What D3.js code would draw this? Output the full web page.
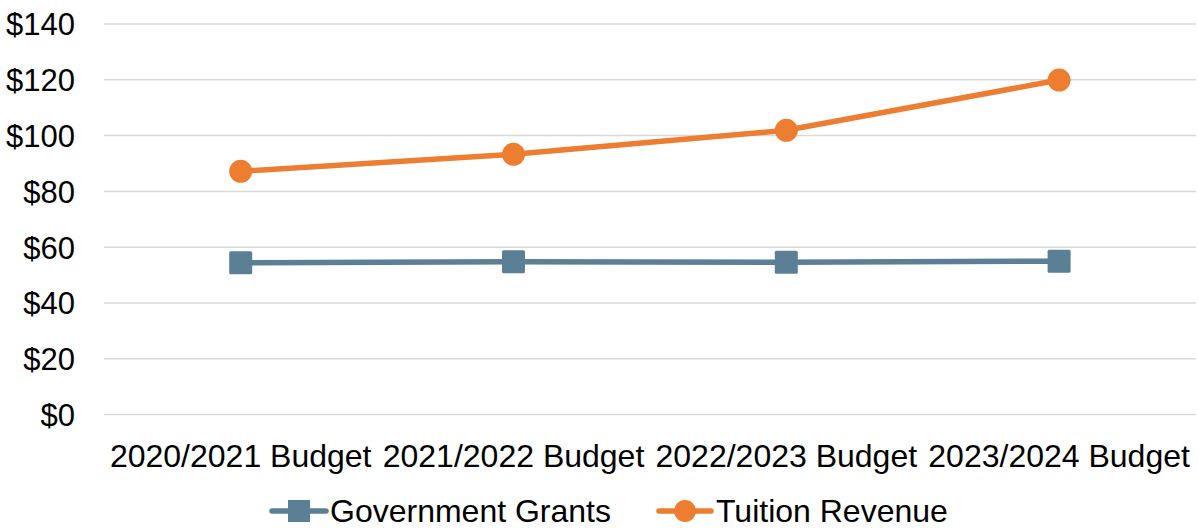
<!DOCTYPE html>
<html><head><meta charset="utf-8">
<script src="https://cdn.jsdelivr.net/npm/d3@7"></script>
<style>body{margin:0;background:#fff}svg{display:block}text{font-family:"Liberation Sans",Arial,sans-serif;fill:#000}</style>
</head><body><svg id="c" width="1199" height="529"></svg>
<script>
const categories = ["2020/2021 Budget","2021/2022 Budget","2022/2023 Budget","2023/2024 Budget"];
const governmentGrants = [54.4, 54.8, 54.6, 55.0];
const tuitionRevenue = [87.2, 93.3, 101.9, 119.9];
const yTicks = [0,20,40,60,80,100,120,140];
const seriesNames = ["Government Grants","Tuition Revenue"];

const svg = d3.select("#c");
const x = d3.scaleBand().domain(categories).range([104.3, 1195.5]);
const y = d3.scaleLinear().domain([0,140]).range([414.6, 24]);
const fmt = v => "$" + v;

// gridlines
svg.append("g").selectAll("line").data(yTicks).join("line")
  .attr("x1", 104).attr("x2", 1196)
  .attr("y1", d => y(d)).attr("y2", d => y(d))
  .attr("stroke", "#d9d9d9").attr("stroke-width", 1.5);

// y axis labels
const yAxis = d3.axisLeft(y).tickValues(yTicks).tickFormat(fmt).tickSize(0).tickPadding(0);
const gy = svg.append("g").attr("transform","translate(75,0)").call(yAxis);
gy.select(".domain").remove();
gy.selectAll("text").attr("font-size", 31).attr("dy","0.35em").style("font-family",'"Liberation Sans",Arial,sans-serif').attr("fill","#000");

// x axis labels
const xAxis = d3.axisBottom(x).tickSize(0).tickPadding(0);
const gx = svg.append("g").attr("transform","translate(0,467)").call(xAxis);
gx.select(".domain").remove();
gx.selectAll("text").attr("font-size", 32).attr("dy", 0).style("font-family",'"Liberation Sans",Arial,sans-serif').attr("fill","#000");

const cx = c => x(c) + x.bandwidth()/2;
const line = d3.line().x((d,i) => cx(categories[i])).y(d => y(d));

const colors = ["#5b7f95", "#ed7d31"];

svg.append("path").datum(governmentGrants).attr("d", line)
  .attr("fill","none").attr("stroke", colors[0]).attr("stroke-width", 5.5);
svg.append("g").selectAll("rect").data(governmentGrants).join("rect")
  .attr("x", (d,i) => cx(categories[i]) - 11.5).attr("y", d => y(d) - 11.5)
  .attr("width", 23).attr("height", 23).attr("rx", 1.5).attr("fill", colors[0]);

svg.append("path").datum(tuitionRevenue).attr("d", line)
  .attr("fill","none").attr("stroke", colors[1]).attr("stroke-width", 5.5);
svg.append("g").selectAll("circle").data(tuitionRevenue).join("circle")
  .attr("cx", (d,i) => cx(categories[i])).attr("cy", d => y(d))
  .attr("r", 11.5).attr("fill", colors[1]);

// legend
const legendY = 511;
const lg = svg.append("g");
// gov
lg.append("line").attr("x1", 272).attr("x2", 326).attr("y1", legendY).attr("y2", legendY)
  .attr("stroke", colors[0]).attr("stroke-width", 5.5).attr("stroke-linecap","round");
lg.append("rect").attr("x", 288).attr("y", legendY - 11).attr("width", 22).attr("height", 22).attr("fill", colors[0]);
lg.append("text").attr("x", 330).attr("y", legendY).attr("dy","0.35em").attr("font-size", 32).text(seriesNames[0]);
// tuition
lg.append("line").attr("x1", 659).attr("x2", 711).attr("y1", legendY).attr("y2", legendY)
  .attr("stroke", colors[1]).attr("stroke-width", 5.5).attr("stroke-linecap","round");
lg.append("circle").attr("cx", 685).attr("cy", legendY).attr("r", 11).attr("fill", colors[1]);
lg.append("text").attr("x", 716).attr("y", legendY).attr("dy","0.35em").attr("font-size", 32).text(seriesNames[1]);
</script></body></html>
